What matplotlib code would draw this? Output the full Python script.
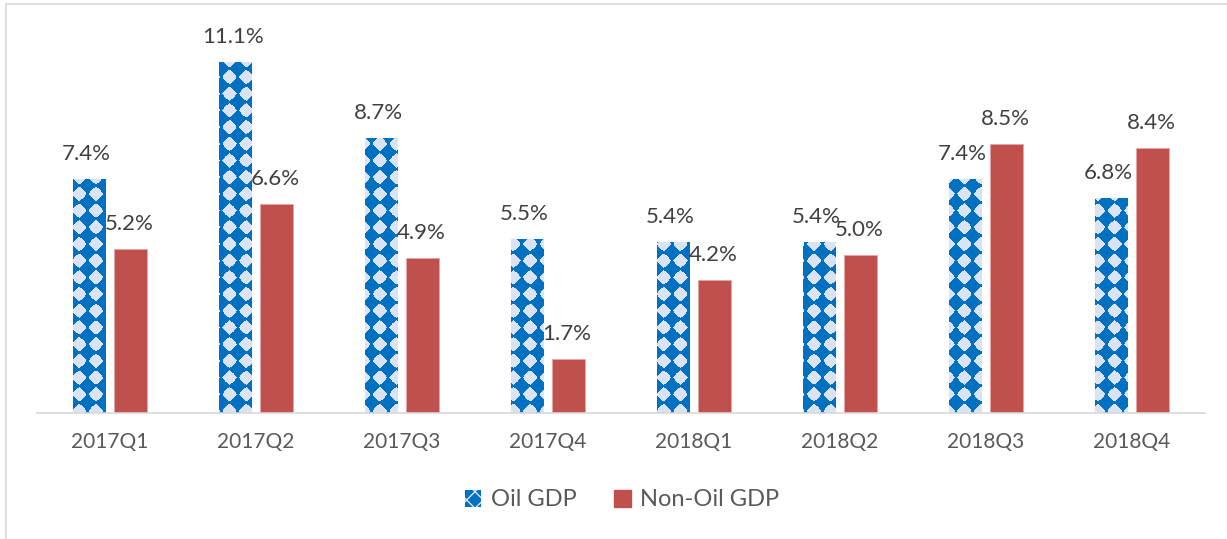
import numpy as np
import matplotlib
matplotlib.use("Agg")
import matplotlib.pyplot as plt
from matplotlib.patches import Patch, Rectangle

quarters = ["2017Q1", "2017Q2", "2017Q3", "2017Q4", "2018Q1", "2018Q2", "2018Q3", "2018Q4"]
oil_gdp = [7.4, 11.1, 8.7, 5.5, 5.4, 5.4, 7.4, 6.8]
non_oil_gdp = [5.2, 6.6, 4.9, 1.7, 4.2, 5.0, 8.5, 8.4]

blue = "#0070C0"
light = "#DAE3F3"
red = "#C0504D"

plt.rcParams['font.family'] = ['Lato', 'DejaVu Sans']

W, H = 1227, 539
fig = plt.figure(figsize=(W / 100, H / 100), dpi=100)
ax_l, ax_r, ax_b, ax_t = 37, 1205, 413, 18
ax = fig.add_axes([ax_l / W, 1 - ax_b / H, (ax_r - ax_l) / W, (ax_b - ax_t) / H])

# chart frame, partly cropped
fig.patches.append(Rectangle((6 / W, -0.1), 1.2, 1 - 4 / H + 0.1, transform=fig.transFigure,
                             fill=False, edgecolor="#D9D9D9", linewidth=1.2))

x = np.arange(len(quarters))
w = 0.225
ymax = 12.5

oil_bars = ax.bar(x - 0.14, oil_gdp, w, color=blue, linewidth=0)
ax.bar(x + 0.14, non_oil_gdp, w, color=red, edgecolor="#E6A5A3", linewidth=0.6)

# diamond pattern for the oil bars, clipped to each bar
pw, ph = ax_r - ax_l, ax_b - ax_t
px, py = np.meshgrid(np.arange(pw), np.arange(ph))
P = 16.7
u = (px % P) / P - 0.5
v = (py % P) / P - 0.5
mask = (np.abs(u) ** 1.2 + np.abs(v) ** 1.2) < 0.36
tex = np.zeros((ph, pw, 3))
tex[:] = matplotlib.colors.to_rgb(blue)
tex[mask] = matplotlib.colors.to_rgb(light)
for b in oil_bars:
    im = ax.imshow(tex, extent=(-0.5, 7.5, 0, ymax), origin="upper", aspect="auto",
                   interpolation="nearest", zorder=2)
    im.set_clip_path(b)

for i in range(len(quarters)):
    ax.annotate(f"{oil_gdp[i]:.1f}%", (x[i] - 0.16, oil_gdp[i]), xytext=(0, 25),
                textcoords="offset pixels", ha="center", va="center", fontsize=16, color="#404040")
    ax.annotate(f"{non_oil_gdp[i]:.1f}%", (x[i] + 0.13, non_oil_gdp[i]), xytext=(0, 25),
                textcoords="offset pixels", ha="center", va="center", fontsize=16, color="#404040")

ax.set_xlim(-0.5, 7.5)
ax.set_ylim(0, ymax)
ax.set_xticks(x)
ax.set_xticklabels(quarters, fontsize=15, color="#595959")
ax.tick_params(axis="x", length=0, pad=14)
ax.set_yticks([])
for s in ["top", "right", "left"]:
    ax.spines[s].set_visible(False)
ax.spines["bottom"].set_color("#D9D9D9")
ax.spines["bottom"].set_linewidth(1.2)
ax.patch.set_alpha(0)

handles = [Patch(facecolor=blue, edgecolor=light, hatch="xx", linewidth=0),
           Patch(facecolor=red, edgecolor=red)]
fig.legend(handles, ["Oil GDP", "Non-Oil GDP"], loc="center", bbox_to_anchor=(622 / W, 1 - 500 / H),
           ncol=2, frameon=False, fontsize=17, labelcolor="#595959", handlelength=0.7,
           handleheight=0.7, handletextpad=0.4, columnspacing=1.6)

fig.savefig("out.png", dpi=100)
